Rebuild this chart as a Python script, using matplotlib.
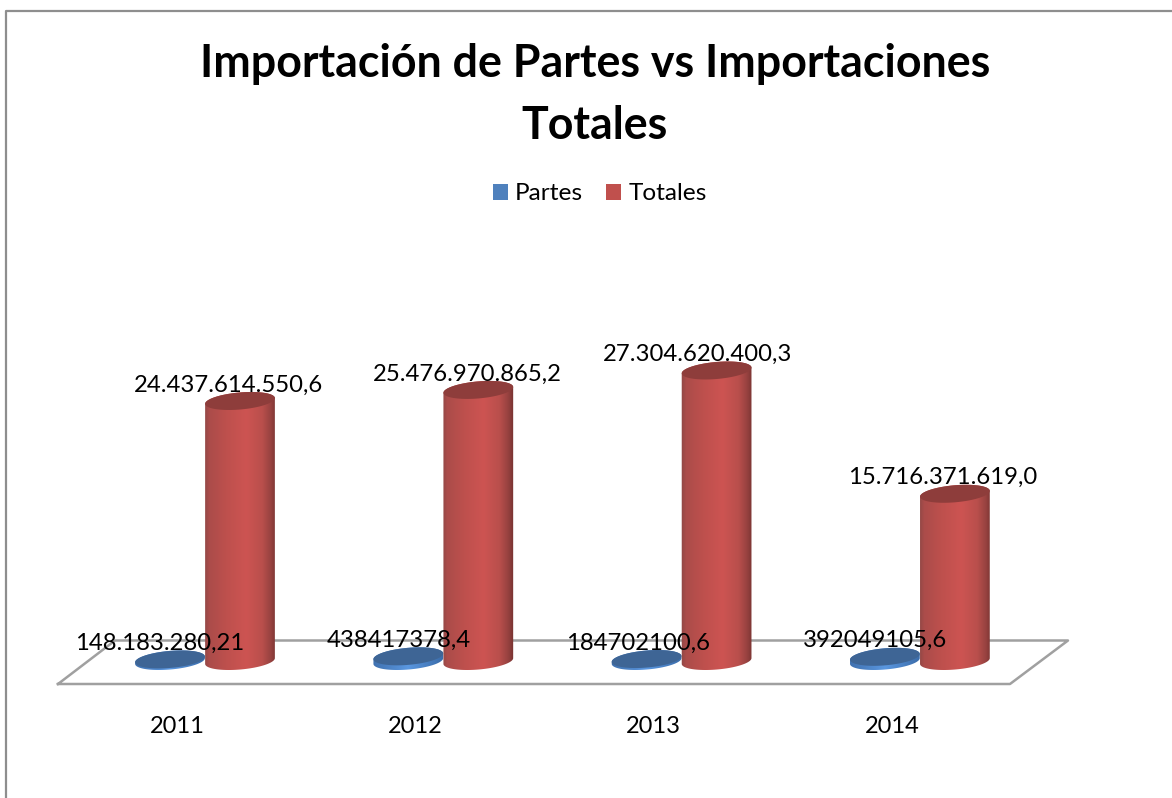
# -*- coding: utf-8 -*-
import numpy as np
import matplotlib
matplotlib.use('Agg')
import matplotlib.pyplot as plt
from matplotlib.colors import LinearSegmentedColormap
from matplotlib.patches import Patch, Polygon

# datos
years = ['2011', '2012', '2013', '2014']
partes = [148183280.21, 438417378.4, 184702100.6, 392049105.6]
totales = [24437614550.6, 25476970865.2, 27304620400.3, 15716371619.0]
partes_txt = ['148.183.280,21', '438417378,4', '184702100,6', '392049105,6']
totales_txt = ['24.437.614.550,6', '25.476.970.865,2', '27.304.620.400,3', '15.716.371.619,0']

# desplazamiento horizontal de las etiquetas (px)
partes_dx = [-10, -10, -9, -10]
totales_dx = [-11, -11, -19, -12]

plt.rcParams['font.family'] = ['Lato', 'DejaVu Sans']

W, H = 1172, 798
X0, PX_CAT = 205, 238.3   # centro del primer grupo, px por categoria
Y0, PX_VAL = 661, 10.64e-9  # base de los cilindros, px por unidad
OFF = 35                  # mitad de la separacion entre series
A, B, TILT = 35, 8.5, np.radians(5)

fig = plt.figure(figsize=(W / 100, H / 100), dpi=100)
ax = fig.add_axes([0, 0, 1, 1])
ax.axis('off')


def dx(p):
    return p / PX_CAT


def dy(p):
    return p / PX_VAL


def ellipse(cx, v, t):
    # elipse inclinada, con los radios en px
    x = A * np.cos(t) * np.cos(TILT) - B * np.sin(t) * np.sin(TILT)
    y = A * np.cos(t) * np.sin(TILT) + B * np.sin(t) * np.cos(TILT)
    return cx + dx(x), v + dy(y)


def cylinder(cx, v, colors, top_color, z):
    t_low = np.linspace(np.pi, 2 * np.pi, 60)
    t_up = np.linspace(0, np.pi, 60)
    xb, yb = ellipse(cx, 0, t_low)
    xt, yt = ellipse(cx, v, t_up)
    body = Polygon(np.column_stack([np.r_[xb, xt], np.r_[yb, yt]]),
                   closed=True, fc='none', ec='none', zorder=z)
    ax.add_patch(body)
    cmap = LinearSegmentedColormap.from_list('c', colors)
    grad = np.linspace(0, 1, 256).reshape(1, -1)
    ax.imshow(grad, cmap=cmap, aspect='auto', zorder=z, clip_path=body,
              extent=(cx - dx(A + 1), cx + dx(A + 1), -dy(20), v + dy(20)))
    t = np.linspace(0, 2 * np.pi, 120)
    xe, ye = ellipse(cx, v, t)
    ax.fill(xe, ye, color=top_color, lw=0, zorder=z + 0.1)


red = [(0, '#8f4745'), (0.07, '#ab4c4a'), (0.3, '#bd504d'), (0.58, '#cd5452'),
       (0.8, '#b94f4c'), (0.92, '#974240'), (1, '#763230')]
blue = [(0, '#3f70ae'), (0.5, '#5a97e0'), (1, '#3a6ba8')]

# piso del grafico
floor_x = np.array([58, 1010, 1068, 115, 58])
floor_y = np.array([684, 684, 640.5, 640.5, 684])
ax.plot((floor_x - X0) / PX_CAT, (Y0 - floor_y) / PX_VAL, color='#a0a0a0', lw=1.8, zorder=1)

pos = np.arange(len(years))
for i in pos:
    cylinder(i - dx(OFF), partes[i], blue, '#3e6595', 2 + i * 0.01)
for i in pos:
    cylinder(i + dx(OFF), totales[i], red, '#8e3d3b', 3 + i * 0.01)

ax.set_xlim(-X0 / PX_CAT, (W - X0) / PX_CAT)
ax.set_ylim((Y0 - H) / PX_VAL, Y0 / PX_VAL)

# etiquetas de valores
for i in pos:
    ax.text(i - dx(OFF) + dx(partes_dx[i]), partes[i] + dy(16), partes_txt[i],
            ha='center', va='center', fontsize=17.2, color='black', zorder=5)
    ax.text(i + dx(OFF) + dx(totales_dx[i]), totales[i] + dy(16), totales_txt[i],
            ha='center', va='center', fontsize=17.2, color='black', zorder=5)
    ax.text(i - dx(28), -dy(65.5), years[i], ha='center', va='center', fontsize=17, zorder=5)

# titulo
fig.text(595 / W, 1 - 95 / H, 'Importación de Partes vs Importaciones\nTotales',
         ha='center', va='center', fontsize=32.2, fontweight='bold', linespacing=1.56)

# leyenda
handles = [Patch(fc='#4f81bd', ec='none', label='Partes'),
           Patch(fc='#c0504d', ec='none', label='Totales')]
fig.legend(handles=handles, ncol=2, loc='center', bbox_to_anchor=(600 / W, 1 - 194 / H),
           frameon=False, fontsize=17.6, handlelength=0.61, handleheight=0.62,
           handletextpad=0.3, columnspacing=0.95)

# borde del area (izquierda y arriba)
ax.plot((np.array([5.5, 5.5, W]) - X0) / PX_CAT, (Y0 - np.array([H, 10.5, 10.5])) / PX_VAL,
        color='#8e8e8e', lw=1.6, zorder=1)

fig.savefig('out.png', dpi=100, facecolor='white')
